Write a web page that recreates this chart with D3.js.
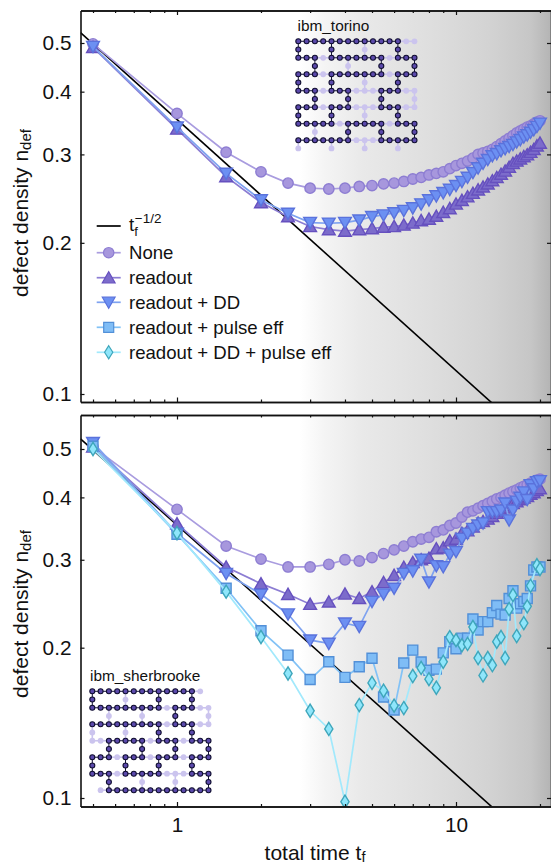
<!DOCTYPE html>
<html><head><meta charset="utf-8">
<script src="https://cdn.jsdelivr.net/npm/d3@7"></script>
<style>html,body{margin:0;padding:0;background:#fff}svg{display:block}text{font-family:"Liberation Sans",Arial,sans-serif;fill:#111}</style>
</head><body><div id="c"></div>
<script>
const times = d3.range(1, 41).map(k => k * 0.5);
const noneTop = [.498,.362,.303,.277,.263,.257,.256,.257,.259,.260,.262,.263,.265,.268,.270,.273,.275,.277,.281,.285,.288,.291,.295,.300,.302,.304,.307,.311,.315,.319,.323,.327,.331,.334,.337,.340,.342,.345,.348,.350];
const readoutTop = [.490,.337,.271,.2405,.2255,.2155,.2125,.211,.2125,.2135,.215,.2155,.217,.219,.2215,.223,.226,.230,.234,.239,.243,.247,.251,.255,.2585,.262,.266,.270,.274,.278,.283,.288,.291,.294,.297,.2995,.303,.307,.312,.316];
const ddTop = [.492,.340,.275,.2435,.229,.2195,.2188,.2195,.222,.2255,.2272,.2295,.232,.2347,.239,.2435,.248,.2517,.2555,.260,.265,.270,.276,.282,.288,.293,.298,.301,.305,.308,.311,.314,.3175,.321,.325,.328,.332,.336,.341,.346];
const noneBottom = [.505,.3785,.3196,.301,.2902,.2902,.2938,.300,.2983,.303,.3087,.314,.3195,.326,.330,.3327,.3414,.3443,.3514,.3554,.3652,.3737,.376,.3806,.385,.389,.393,.397,.400,.404,.408,.411,.414,.418,.421,.424,.427,.430,.433,.435];
const readoutBottom = [.505,.3543,.2902,.2687,.2558,.2444,.247,.2562,.251,.259,.2702,.2792,.2898,.2962,.300,.3022,.3156,.317,.3275,.330,.339,.343,.349,.3554,.358,.362,.3665,.372,.376,.381,.385,.389,.392,.396,.399,.402,.406,.409,.413,.4165];
const ddBottom = [.515,.339,.2816,.2558,.2336,.2071,.204,.224,.2205,.2475,.2562,.263,.2816,.285,.3005,.2707,.2918,.2905,.3077,.3115,.331,.339,.3465,.352,.3554,.3744,.3744,.3744,.3772,.3895,.3604,.3772,.393,.40,.41,.396,.424,.416,.43,.432];
const pulseBottom = [.5065,.3375,.263,.2163,.1933,.1727,.1875,.1744,.1832,.1905,.1593,.1501,.1864,.1978,.1872,.1803,.1812,.1953,.2056,.199,.209,.209,.2283,.217,.2255,.2255,.235,.243,.2335,.2325,.251,.26,.24,.245,.2475,.251,.266,.2861,.2902,.2902];
const ddPulseBottom = [.50,.3395,.259,.2101,.1776,.1495,.1375,.0983,.1535,.170,.164,.1531,.1514,.1755,.1822,.173,.1663,.1874,.21,.2071,.2023,.2035,.22,.1907,.176,.1907,.1845,.2056,.2101,.1907,.239,.255,.211,null,.224,.242,.266,null,.2925,.2875];
const powerCoef = 0.352;
const yTickValues = [0.1, 0.2, 0.3, 0.4, 0.5];
const xMajorTicks = [1, 10];
const xMinorTicks = [0.5,0.6,0.7,0.8,0.9,2,3,4,5,6,7,8,9,20];
const legendLabels = ["None", "readout", "readout + DD", "readout + pulse eff", "readout + DD + pulse eff"];
const torinoRows = [
"#############oo","#   #   o   #  ","###o#######o###","  #   o   #   #","###o#######o###",
"#   #   o   #  ","###o###ooo###oo","  #   #   #   o","###o###ooo###oo","#   #   o   #  ",
"#####o#####o###","  o   #   #   #","#######ooo#####","o   o   o   o  "];
const sherbrookeRows = [
"#############o ","#   o   #   #  ","#########o###oo","  o   o   #   o","#########o###oo",
"o   o   #   #  ","oo#####o###o###","  #   #   #   #","###o###o###o###","#   #   #   #  ",
"###o#####ooo###","  #   o   o   #"," o#############"];

const W = 551, H = 865, L = 80.5, R = 551;
const styles = [
 {sym:"circle",  fill:"#a797dd", stroke:"#8d7dd2", line:"#a99cdf", size:5.2},
 {sym:"up",      fill:"#7c6ccb", stroke:"#6650bf", line:"#8c7dd3", size:6.4},
 {sym:"down",    fill:"#6c90f2", stroke:"#5a72dc", line:"#7ea2f0", size:6.4},
 {sym:"square",  fill:"#7fbdf6", stroke:"#5290d8", line:"#82c2f6", size:5},
 {sym:"diamond", fill:"#8fe6fb", stroke:"#3ea6bb", line:"#a2e9fc", size:6.6}
];
function symbolPath(name, r){
  const p = d3.path();
  const poly = pts => {p.moveTo(pts[0][0],pts[0][1]);pts.slice(1).forEach(q=>p.lineTo(q[0],q[1]));p.closePath();};
  if(name==="circle"){p.arc(0,0,r,0,2*Math.PI);}
  if(name==="up") poly([[-r,r*.8],[r,r*.8],[0,-r*.95]]);
  if(name==="down") poly([[-r,-r*.8],[r,-r*.8],[0,r*.95]]);
  if(name==="square") poly([[-r,-r],[r,-r],[r,r],[-r,r]]);
  if(name==="diamond") poly([[0,-r],[r*.62,0],[0,r],[-r*.62,0]]);
  return p.toString();
}
const svg = d3.select("#c").append("svg").attr("width",W).attr("height",H).attr("viewBox",`0 0 ${W} ${H}`);
const defs = svg.append("defs");
const grad = defs.append("linearGradient").attr("id","shade").attr("gradientUnits","userSpaceOnUse")
  .attr("x1",300).attr("x2",551).attr("y1",0).attr("y2",0);
[[0,"#ffffff"],[.1,"#f4f4f4"],[.25,"#e9e9e9"],[.5,"#dfdfdf"],[.75,"#d3d3d3"],[.92,"#c6c6c6"],[1,"#b4b4b4"]]
  .forEach(s=>grad.append("stop").attr("offset",s[0]).attr("stop-color",s[1]));

const x = d3.scaleLog().domain([Math.pow(10,(L-177)/279), Math.pow(10,(R-177)/279)]).range([L,R]);

function drawSeries(g, values, st, xs, ys){
  const pts = times.map((t,i)=>[t,values[i]]).filter(d=>d[1]!==null);
  g.append("path").attr("fill","none").attr("stroke",st.line).attr("stroke-width",1.7)
    .attr("d",d3.line().x(d=>xs(d[0])).y(d=>ys(d[1]))(pts));
  g.selectAll(null).data(pts).join("path")
    .attr("transform",d=>`translate(${xs(d[0])},${ys(d[1])})`)
    .attr("d",symbolPath(st.sym,st.size))
    .attr("fill",st.fill).attr("stroke",st.stroke).attr("stroke-width",1.4);
}
function axesFor(g, y, top, bottom, showX){
  const ax = (fn,scale,vals,size,pos,labels,pad) => {
    const a = fn(scale).tickValues(vals).tickSize(size).tickSizeOuter(0).tickPadding(pad||8);
    a.tickFormat(labels ? labels : ()=> "");
    const s = g.append("g").attr("transform",pos).call(a);
    s.select(".domain").attr("stroke","#111").attr("stroke-width",1.6);
    s.selectAll(".tick line").attr("stroke","#111").attr("stroke-width",1.2);
    return s;
  };
  const f1 = d3.format(".1f");
  ax(d3.axisLeft,y,yTickValues,-4,`translate(${L},0)`,f1,9).selectAll("text")
    .style("font-size","20.8px").style("font-family","'Liberation Sans'").attr("fill","#111");
  ax(d3.axisRight,y,yTickValues,-4,`translate(${R},0)`);
  ax(d3.axisTop,x,xMajorTicks,-4.5,`translate(0,${top})`);
  ax(d3.axisTop,x,xMinorTicks,-2.5,`translate(0,${top})`);
  const bm = ax(d3.axisBottom,x,xMajorTicks,-4.5,`translate(0,${bottom})`, showX ? (d=>String(d)) : null, 11);
  bm.selectAll("text").style("font-size","20.8px").style("font-family","'Liberation Sans'").attr("fill","#111");
  ax(d3.axisBottom,x,xMinorTicks,-2.5,`translate(0,${bottom})`);
}
function panel(id, top, bottom, y5, y1, series){
  const dec = (y1-y5)/Math.log10(5);
  const y = d3.scaleLog().domain([0.1*Math.pow(10,(y1-bottom)/dec), 0.1*Math.pow(10,(y1-top)/dec)]).range([bottom,top]);
  defs.append("clipPath").attr("id",id).append("rect").attr("x",L).attr("y",top).attr("width",R-L).attr("height",bottom-top);
  svg.append("rect").attr("x",L).attr("y",top).attr("width",R-L).attr("height",bottom-top).attr("fill","url(#shade)");
  const g = svg.append("g").attr("clip-path",`url(#${id})`);
  const curve = x.domain().map(t=>[t,powerCoef/Math.sqrt(t)]);
  g.append("path").attr("fill","none").attr("stroke","#000").attr("stroke-width",1.6)
    .attr("d",d3.line().x(d=>x(d[0])).y(d=>y(d[1]))(curve));
  series.forEach(s=>drawSeries(g,s.values,s.style,x,y));
  axesFor(svg.append("g"),y,top,bottom,id==="clipB");
  return y;
}
panel("clipT",10.5,402,43,394,[
 {values:noneTop,style:styles[0]},{values:readoutTop,style:styles[1]},{values:ddTop,style:styles[2]}]);
panel("clipB",415,806.5,449,798,[
 {values:noneBottom,style:styles[0]},{values:readoutBottom,style:styles[1]},{values:ddBottom,style:styles[2]},
 {values:pulseBottom,style:styles[3]},{values:ddPulseBottom,style:styles[4]}]);

/* y labels */
[213,614].forEach(cy=>{
  const t = svg.append("text").attr("transform",`translate(28,${cy}) rotate(-90)`).attr("text-anchor","middle").style("font-size","21px");
  t.append("tspan").text("defect density n");
  t.append("tspan").text("def").attr("dy",3).style("font-size","15px");
});
const xl = svg.append("text").attr("x",315).attr("y",860).attr("text-anchor","middle").style("font-size","21px");
xl.append("tspan").text("total time t");
xl.append("tspan").text("f").attr("dy",2).style("font-size","14.5px");

/* legend */
const legY = [252.7,277.7,302.3,327.3,352.3];
const lg = svg.append("g");
lg.append("line").attr("x1",96.7).attr("x2",120.7).attr("y1",226).attr("y2",226).attr("stroke","#000").attr("stroke-width",1.7);
const lt = lg.append("text").attr("x",129).attr("y",231).style("font-size","18.6px");
lt.append("tspan").text("t");
lt.append("tspan").text("f").attr("dy",5).style("font-size","13px");
lt.append("tspan").text("\u22121/2").attr("dx",-3).attr("dy",-13).style("font-size","13.5px");
legendLabels.forEach((lab,i)=>{
  const st = styles[i], yy = legY[i];
  lg.append("line").attr("x1",96.7).attr("x2",120.7).attr("y1",yy).attr("y2",yy).attr("stroke",st.line).attr("stroke-width",1.7);
  lg.append("path").attr("transform",`translate(108.7,${yy})`).attr("d",symbolPath(st.sym,st.size)).attr("fill",st.fill).attr("stroke",st.stroke).attr("stroke-width",1.2);
  lg.append("text").attr("x",129).attr("y",yy+6.5).style("font-size","18.6px").text(lab);
});

/* chip maps */
function chip(rows, name, nameX, nameY, x0, y0){
  const cx = d3.scaleLinear().domain([0,14]).range([x0,x0+14*8.3]);
  const cy = d3.scaleLinear().domain([0,rows.length-1]).range([y0,y0+(rows.length-1)*8.24]);
  const g = svg.append("g");
  g.append("text").attr("x",nameX).attr("y",nameY).style("font-size","15.4px").text(name);
  const at = (r,c)=> (rows[r]||"")[c]||" ";
  const nodes=[],edges=[];
  rows.forEach((row,r)=>row.split("").forEach((ch,c)=>{
    if(ch===" ")return;
    nodes.push({r,c,on:ch==="#"});
    [[r,c+1],[r+1,c]].forEach(n=>{
      const o=at(n[0],n[1]);
      if(o!==" ")edges.push({r,c,r2:n[0],c2:n[1],on:ch==="#"&&o==="#"});
    });
  }));
  const ord=(a,b)=>d3.ascending(a.on,b.on);
  g.selectAll("line").data(edges.sort(ord)).join("line")
    .attr("x1",d=>cx(d.c)).attr("y1",d=>cy(d.r)).attr("x2",d=>cx(d.c2)).attr("y2",d=>cy(d.r2))
    .attr("stroke",d=>d.on?"#15123a":"#cbc4ee").attr("stroke-width",d=>d.on?1:1.6);
  g.selectAll("circle").data(nodes.sort(ord)).join("circle")
    .attr("cx",d=>cx(d.c)).attr("cy",d=>cy(d.r)).attr("r",d=>d.on?2.5:2.9)
    .attr("fill",d=>d.on?"#5b49ac":"#cbc4ee").attr("stroke",d=>d.on?"#100e30":"none").attr("stroke-width",1.1);
}
chip(torinoRows,"ibm_torino",297.5,31,298.3,41.3);
chip(sherbrookeRows,"ibm_sherbrooke",90,681,92.3,691.3);
</script></body></html>
